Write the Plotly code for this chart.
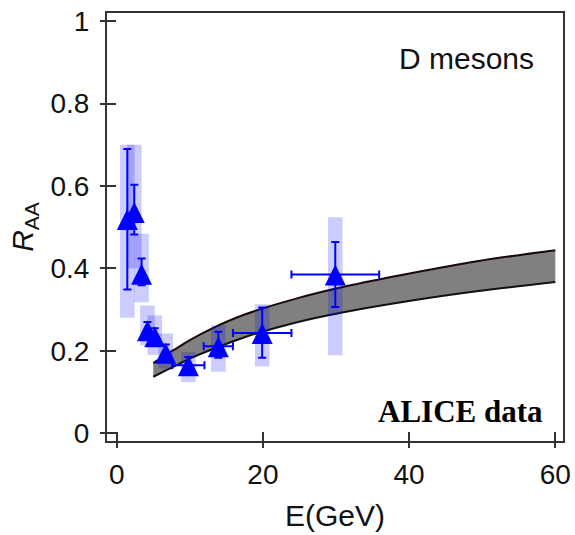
import plotly.graph_objects as go

# ---------------- data ----------------
E = [1.45, 2.4, 3.4, 4.2, 5.2, 6.7, 9.8, 13.9, 19.9, 29.9]
RAA = [0.52, 0.537, 0.387, 0.25, 0.235, 0.195, 0.165, 0.211, 0.243, 0.385]
stat_up = [0.17, 0.066, 0.037, 0.02, 0.02, 0.02, 0.02, 0.035, 0.062, 0.079]
stat_dn = [0.171, 0.055, 0.028, 0.02, 0.02, 0.02, 0.02, 0.028, 0.06, 0.079]
E_err = [0, 0, 0, 0, 0, 0, 2.2, 2.0, 4.0, 6.0]
sys_lo = [0.28, 0.40, 0.318, 0.213, 0.19, 0.157, 0.124, 0.149, 0.162, 0.189]
sys_hi = [0.70, 0.70, 0.484, 0.31, 0.286, 0.242, 0.197, 0.262, 0.313, 0.524]

band_E = [5, 6, 7, 8.2, 10, 13, 17.5, 24.4, 31.2, 40.4, 49.5, 60]
band_hi = [0.17, 0.182, 0.194, 0.206, 0.226, 0.254, 0.288, 0.326, 0.356, 0.389, 0.418, 0.444]
band_lo = [0.137, 0.146, 0.155, 0.165, 0.181, 0.203, 0.233, 0.268, 0.294, 0.322, 0.345, 0.367]

x_ticks = [0, 20, 40, 60]
y_ticks = [0, 0.2, 0.4, 0.6, 0.8, 1]
y_tick_text = ["0", "0.2", "0.4", "0.6", "0.8", "1"]

# ---------------- style ----------------
BOX_HALF = 1.0
BLUE = "#0000FF"
AXIS_COL = "#333333"
FONT = "Arial, Liberation Sans, sans-serif"

fig = go.Figure()

# model band
fig.add_trace(go.Scatter(x=band_E, y=band_lo, mode="lines", line=dict(color="#111111", width=2, shape="spline"),
                         showlegend=False, hoverinfo="skip"))
fig.add_trace(go.Scatter(x=band_E, y=band_hi, mode="lines", line=dict(color="#1a0808", width=2, shape="spline"),
                         fill="tonexty", fillcolor="#808080", showlegend=False, hoverinfo="skip"))

# systematic boxes
for xi, lo, hi in zip(E, sys_lo, sys_hi):
    fig.add_trace(go.Scatter(
        x=[xi - BOX_HALF, xi + BOX_HALF, xi + BOX_HALF, xi - BOX_HALF, xi - BOX_HALF],
        y=[lo, lo, hi, hi, lo], mode="lines", line=dict(width=0),
        fill="toself", fillcolor="rgba(0,0,255,0.2)", showlegend=False, hoverinfo="skip"))

# data points
fig.add_trace(go.Scatter(
    x=E, y=RAA, mode="markers",
    marker=dict(symbol="arrow-down", angle=180, standoff=10, size=21, color=BLUE, line=dict(width=0)),
    error_y=dict(type="data", symmetric=False, array=stat_up, arrayminus=stat_dn,
                 color=BLUE, thickness=2, width=4),
    error_x=dict(type="data", array=E_err, color=BLUE, thickness=2, width=4),
    showlegend=False))

# invisible trace for overlay axes
fig.add_trace(go.Scatter(x=[0], y=[0], xaxis="x2", yaxis="y2", mode="markers",
                         marker=dict(opacity=0), showlegend=False, hoverinfo="skip"))

xr = [-1.33, 61.05]
yr = [-0.019, 1.02]

fig.update_layout(
    template="none",
    width=575, height=535,
    margin=dict(l=107, r=12, t=13, b=94, autoexpand=False),
    paper_bgcolor="white", plot_bgcolor="white",
    font=dict(family=FONT, size=28, color="#111111"),
    xaxis=dict(range=xr, tickvals=x_ticks, ticks="outside", ticklen=5, tickwidth=1.5, tickcolor=AXIS_COL,
               showline=True, linecolor=AXIS_COL, linewidth=2, mirror=True, showgrid=False, zeroline=False,
               automargin=False, tickfont=dict(size=28), ticklabelstandoff=2,
               title=dict(text="E(GeV)", font=dict(size=30), standoff=16)),
    yaxis=dict(range=yr, tickvals=y_ticks, ticktext=y_tick_text, ticks="outside", ticklen=5, tickwidth=1.5,
               tickcolor=AXIS_COL, showline=True, linecolor=AXIS_COL, linewidth=2, mirror=True,
               showgrid=False, zeroline=False, automargin=False, tickfont=dict(size=28), ticklabelstandoff=5,
               title=dict(text="<i>R</i><sub>AA</sub>", font=dict(size=30), standoff=8)),
    xaxis2=dict(range=xr, overlaying="x", anchor="y2", tickvals=x_ticks, ticks="inside", ticklen=9,
                tickwidth=1.5, tickcolor=AXIS_COL, showticklabels=False, showline=False, showgrid=False,
                zeroline=False, automargin=False),
    yaxis2=dict(range=yr, overlaying="y", anchor="x2", side="left", tickvals=y_ticks, ticks="inside", ticklen=9,
                tickwidth=1.5, tickcolor=AXIS_COL, showticklabels=False, showline=False, showgrid=False,
                zeroline=False, automargin=False),
    annotations=[
        dict(text="D mesons", xref="paper", yref="paper", x=0.94, y=0.893, xanchor="right", yanchor="middle",
             showarrow=False, font=dict(family=FONT, size=30, color="#111111")),
        dict(text="<b>ALICE data</b>", xref="paper", yref="paper", x=0.96, y=0.0685, xanchor="right",
             yanchor="middle", showarrow=False,
             font=dict(family="Times New Roman, Liberation Serif, serif", size=31, color="#000000")),
    ],
)

fig.write_html("out.html")
